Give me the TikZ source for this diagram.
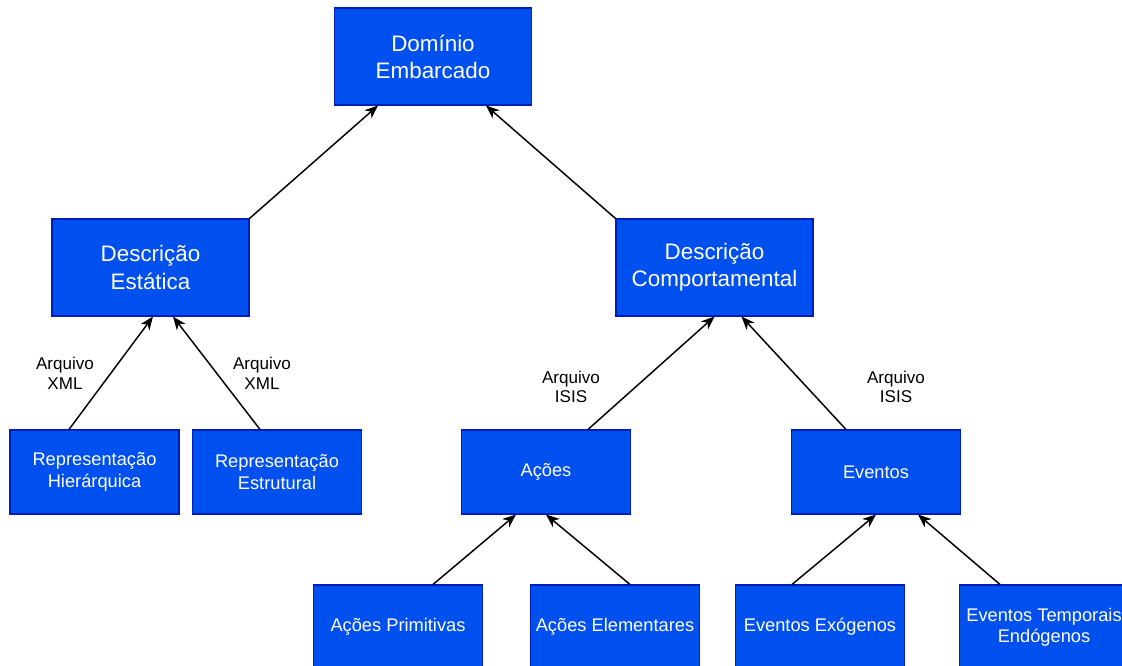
\documentclass[tikz,border=0pt]{standalone}
\usepackage{fontspec}
\setmainfont{Liberation Sans}
\usetikzlibrary{arrows.meta,calc}
\definecolor{boxfill}{HTML}{0050EF}
\definecolor{boxline}{HTML}{001DBC}
\begin{document}
\begin{tikzpicture}[x=0.75pt,y=-0.75pt,
  bigbox/.style={draw=boxline,fill=boxfill,line width=0.8pt,text=white,align=center,
    minimum width=147.75pt,minimum height=72.75pt,inner sep=0pt,
    font=\fontsize{16.8}{20.3}\selectfont},
  smallbox/.style={draw=boxline,fill=boxfill,line width=0.8pt,text=white,align=center,
    minimum width=126.75pt,minimum height=63pt,inner sep=0pt,
    font=\fontsize{13.7}{16}\selectfont},
  lbl/.style={align=center,inner sep=0pt,font=\fontsize{12.8}{14.8}\selectfont},
  link/.style={draw=black,line width=1.1pt,-{Stealth[length=10pt,width=8pt,inset=3pt]}}]
\useasboundingbox (0,0) rectangle (1122,666);
\clip (0,0) rectangle (1122,666);

% boxes
\node[bigbox] (dom) at (433,56.5) {Domínio\\Embarcado};
\node[bigbox] (est) at (150.5,267.5) {Descrição\\Estática};
\node[bigbox] (comp) at (714.5,267.5) {Descrição\\Comportamental};
\node[smallbox] (hier) at (94.5,472) {Representação\\Hierárquica};
\node[smallbox] (estr) at (277,472) {Representação\\Estrutural};
\node[smallbox] (acoes) at (546,472) {Ações};
\node[smallbox] (evt) at (876,472) {Eventos};
\node[smallbox] (prim) at (398,627) {Ações Primitivas};
\node[smallbox] (elem) at (615,627) {Ações Elementares};
\node[smallbox] (exo) at (820,627) {Eventos Exógenos};
\node[smallbox] (endo) at (1044,627) {Eventos Temporais\\Endógenos};

% connectors
\draw[link] (est.north east) -- ($(dom.south)+(-55,0)$);
\draw[link] (comp.north west) -- ($(dom.south)+(53,0)$);
\draw[link] ($(hier.north)+(-25.5,0)$) -- ($(est.south)+(2.5,0)$);
\draw[link] ($(estr.north)+(-17,0)$) -- ($(est.south)+(22.5,0)$);
\draw[link] ($(acoes.north)+(42,0)$) -- (comp.south);
\draw[link] ($(evt.north)+(-30,0)$) -- ($(comp.south)+(27,0)$);
\draw[link] ($(prim.north)+(35,0)$) -- ($(acoes.south)+(-30,0)$);
\draw[link] ($(elem.north)+(15,0)$) -- (acoes.south);
\draw[link] ($(exo.north)+(-28,0)$) -- (evt.south);
\draw[link] ($(endo.north)+(-44,0)$) -- ($(evt.south)+(42,0)$);

% connector labels
\node[lbl] (l1) at (65,373) {Arquivo\\XML};
\node[lbl] (l2) at (262,373) {Arquivo\\XML};
\node[lbl] (l3) at (571,387) {Arquivo\\ISIS};
\node[lbl] (l4) at (896,387) {Arquivo\\ISIS};
\end{tikzpicture}
\end{document}
